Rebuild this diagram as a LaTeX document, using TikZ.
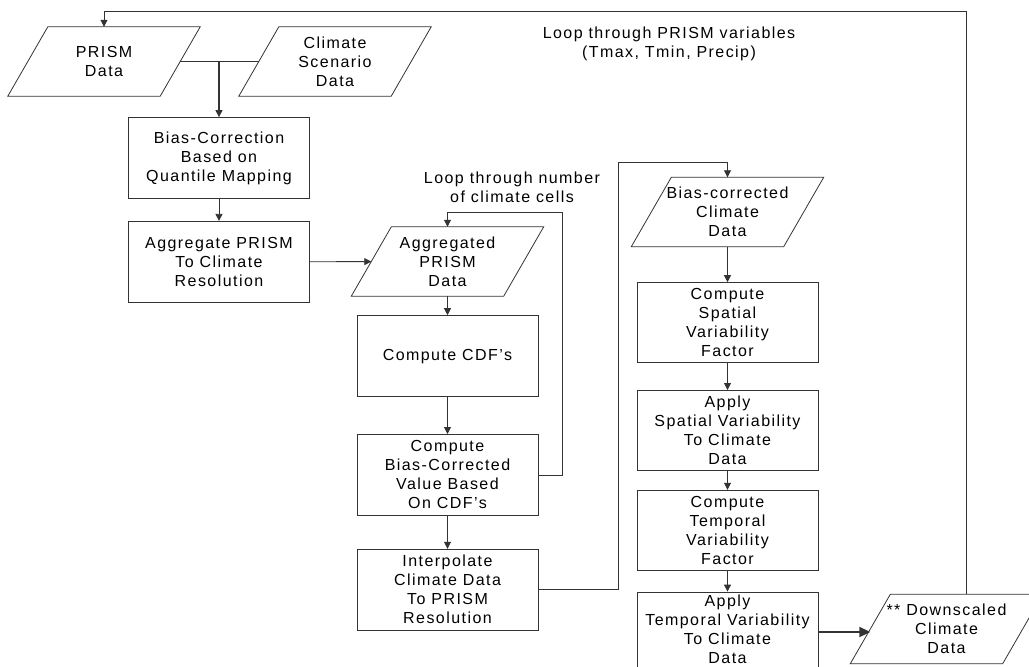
\documentclass[tikz,border=0pt]{standalone}
\usepackage{fontspec}
\setmainfont{Liberation Sans}[LetterSpace=9]
\usetikzlibrary{arrows.meta,positioning}

\begin{document}
\begin{tikzpicture}[
  x=1pt,y=1pt,
  font=\fontsize{16}{19}\selectfont,
  line/.style={draw=black!80,line width=0.8pt},
  box/.style={line,rectangle,minimum width=181pt,minimum height=81pt,align=center,inner sep=2pt},
  sbox/.style={box,minimum height=80pt},
  data/.style={rectangle,minimum width=152pt,minimum height=69pt,align=center,inner sep=0pt},
  arrow/.style={line,-{Triangle[length=7pt,width=7pt]}},
  bigarrow/.style={line,line width=2pt,-{Triangle[length=11pt,width=10pt]}},
  note/.style={align=center}
]
\useasboundingbox (0,0) rectangle (1029,-667);
% input data
\node[data] (prism) at (104,-61.5) {PRISM\\Data};
\node[data] (scen) at (335,-61.5) {Climate\\Scenario\\Data};
% first column
\node[box] (biascorr) at (219,-158) {Bias-Correction\\Based on\\Quantile Mapping};
\node[box,below=22pt of biascorr] (aggr) {Aggregate PRISM\\To Climate\\Resolution};
% second column
\node[data] (aggprism) at (447.5,-261.5) {Aggregated\\PRISM\\Data};
\node[box,below=19pt of aggprism] (cdf) {Compute CDF's};
\node[box,below=37pt of cdf] (biasval) {Compute\\Bias-Corrected\\Value Based\\On CDF's};
\node[box,below=33pt of biasval] (interp) {Interpolate\\Climate Data\\To PRISM\\Resolution};
% third column
\node[data] (bcdata) at (727.5,-212) {Bias-corrected\\Climate\\Data};
\node[sbox,below=35.5pt of bcdata] (spatf) {Compute\\Spatial\\Variability\\Factor};
\node[sbox,below=27pt of spatf] (spata) {Apply\\Spatial Variability\\To Climate\\Data};
\node[sbox,below=19pt of spata] (tempf) {Compute\\Temporal\\Variability\\Factor};
\node[sbox,below=21pt of tempf,text depth=6pt] (tempa) {Apply\\Temporal Variability\\To Climate\\Data};
\node[data] (down) at (946.5,-629) {** Downscaled\\Climate\\Data};
% loop labels
\node[note] (cellnote) at (512,-187) {Loop through number\\of climate cells};
\node[note] (varnote) at (669,-44) {Loop through PRISM variables\\(Tmax, Tmin, Precip)};
% parallelogram outlines
\foreach \n in {prism,scen,aggprism,bcdata,down}
  \draw[line] ([xshift=-20pt]\n.south west) -- ([xshift=-20pt]\n.south east)
    -- ([xshift=20pt]\n.north east) -- ([xshift=20pt]\n.north west) -- cycle;
% turning points of the loops
\coordinate (cellturn) at (562,-212);
\coordinate (interpturn) at (618,-162);
\coordinate (looptop) at (966,-11);
% connectors
\draw[line] (prism.east) -- (scen.west);
\draw[arrow,line width=1.2pt] (biascorr.north |- prism.east) -- (biascorr.north);
\draw[arrow] (biascorr) -- (aggr);
\draw[arrow] (aggr) -- (aggprism);
\draw[arrow] (aggprism) -- (cdf);
\draw[arrow] (cdf) -- (biasval);
\draw[arrow] (biasval) -- (interp);
\draw[arrow] (biasval.east) -| (cellturn) -| (aggprism.north);
\draw[arrow] (interp.east) -| (interpturn) -| (bcdata.north);
\draw[arrow] (bcdata) -- (spatf);
\draw[arrow] (spatf) -- (spata);
\draw[arrow] (spata) -- (tempf);
\draw[arrow] (tempf) -- (tempa);
\draw[bigarrow] (tempa.east) -- (tempa.east -| down.west);
\draw[arrow] (looptop |- down.north) -- (looptop) -| (prism.north);
\end{tikzpicture}
\end{document}
